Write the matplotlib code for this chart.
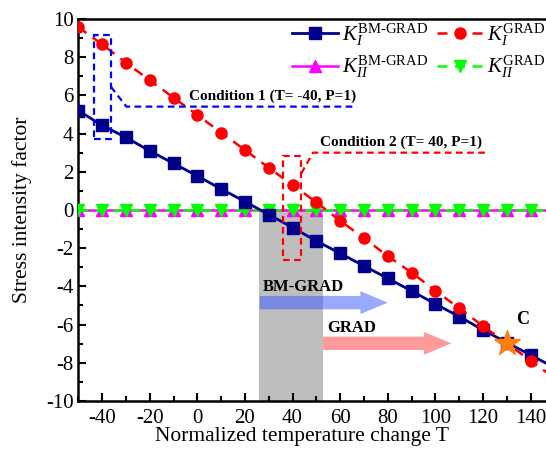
import matplotlib
matplotlib.use("Agg")
import matplotlib.pyplot as plt
from matplotlib.patches import Rectangle, FancyArrow
from matplotlib.ticker import MultipleLocator

plt.rcParams['font.family'] = ['Liberation Serif', 'DejaVu Serif']
plt.rcParams['mathtext.fontset'] = 'custom'
plt.rcParams['mathtext.rm'] = 'Liberation Serif'
plt.rcParams['mathtext.it'] = 'Liberation Serif:italic'
plt.rcParams['mathtext.bf'] = 'Liberation Serif:bold'
plt.rcParams['axes.unicode_minus'] = False

# ---- data ----
T = [-50, -40, -30, -20, -10, 0, 10, 20, 30, 40, 50, 60, 70, 80, 90, 100, 110, 120, 130, 140, 150]
KI_BM = [5.20, 4.43, 3.80, 3.09, 2.44, 1.78, 1.10, 0.44, -0.24, -0.92, -1.62, -2.27, -2.93,
         -3.58, -4.24, -4.92, -5.58, -6.28, -6.94, -7.59, -8.25]
KI_GRAD = [9.57, 8.67, 7.71, 6.79, 5.88, 4.97, 4.05, 3.14, 2.21, 1.31, 0.40, -0.56, -1.48,
           -2.41, -3.28, -4.22, -5.15, -6.07, -6.98, -7.89, -8.80]
KII_BM = [0.0] * len(T)
KII_GRAD = [0.0] * len(T)
point_C = (130, -6.97)
shade_T = (26, 53)
xticks = [-40, -20, 0, 20, 40, 60, 80, 100, 120, 140]
yticks = [-10, -8, -6, -4, -2, 0, 2, 4, 6, 8, 10]

fig = plt.figure(figsize=(5.46, 4.62), dpi=100)
ax = fig.add_axes([0.1434, 0.132, 0.872, 0.827])

ax.axvspan(shade_T[0], shade_T[1], ymin=0, ymax=0.5, color='#bebebe', zorder=0, lw=0)

h1, = ax.plot(T, KI_BM, color='#00008B', lw=2.0, marker='s', ms=8.5, label=r'$K_I^{\mathrm{BM\text{-}GRAD}}$', zorder=4)
h2, = ax.plot(T, KI_GRAD, color='#FF0000', lw=1.8, ls=(0, (4, 3)), marker='o', ms=8, label=r'$K_I^{\mathrm{GRAD}}$', zorder=5)
h3, = ax.plot(T, KII_BM, color='#FF00FF', lw=1.8, marker='^', ms=9, label=r'$K_{II}^{\mathrm{BM\text{-}GRAD}}$', zorder=3)
h4, = ax.plot(T, KII_GRAD, color='#00FF00', lw=1.8, ls=(0, (4, 3)), marker='v', ms=9, label=r'$K_{II}^{\mathrm{GRAD}}$', zorder=3.5)

ax.plot([point_C[0]], [point_C[1]], marker='*', color='#FF7F0E', ms=19, zorder=6, ls='none')
ax.text(134, -5.75, 'C', fontsize=13, fontweight='bold', ha='left', va='center')

# condition 1 annotation
ax.add_patch(Rectangle((-43.5, 3.72), 7.2, 5.46, fill=False, ec='#0000FF', lw=1.6, ls=(0, (3, 2)), zorder=7))
ax.plot([-36.3, -29.8, 67], [6.45, 5.41, 5.41], color='#0000FF', lw=1.6, ls=(0, (3, 2)), zorder=7)
ax.text(31.5, 5.62, 'Condition 1 (T= -40, P=1)', fontsize=11, fontweight='bold', ha='center', va='bottom')

# condition 2 annotation
ax.add_patch(Rectangle((36.0, -2.62), 7.7, 5.45, fill=False, ec='#FF0000', lw=1.6, ls=(0, (3, 2)), zorder=7))
ax.plot([43.7, 48.6, 121.4], [1.92, 3.0, 3.0], color='#FF0000', lw=1.6, ls=(0, (3, 2)), zorder=7)
ax.text(85.5, 3.2, 'Condition 2 (T= 40, P=1)', fontsize=11, fontweight='bold', ha='center', va='bottom')

# arrows
ax.add_patch(FancyArrow(26.2, -4.85, 53.8, 0, width=0.7, head_width=1.2, head_length=11.5,
                        length_includes_head=True, color='#3355FF', alpha=0.5, lw=0, zorder=2))
ax.text(27.5, -4.05, 'BM-GRAD', fontsize=12, fontweight='bold', ha='left', va='center')
ax.add_patch(FancyArrow(52.8, -6.98, 53.9, 0, width=0.7, head_width=1.2, head_length=11.5,
                        length_includes_head=True, color='#FF2020', alpha=0.45, lw=0, zorder=2))
ax.text(54.5, -6.2, 'GRAD', fontsize=12, fontweight='bold', ha='left', va='center')

ax.set_xlim(-50, 150)
ax.set_ylim(-10, 10)
ax.set_xticks(xticks)
ax.set_yticks(yticks)
ax.xaxis.set_minor_locator(MultipleLocator(10))
ax.yaxis.set_minor_locator(MultipleLocator(1))
ax.tick_params(which='both', direction='in', width=1.5, labelsize=15)
ax.tick_params(which='major', length=6)
ax.tick_params(which='minor', length=3.5)
ax.tick_params(axis='x', pad=6)
for s in ax.spines.values():
    s.set_linewidth(1.8)

ax.set_xlabel('Normalized temperature change T', fontsize=15.5)
ax.xaxis.set_label_coords(0.47, -0.068)
ax.set_ylabel('Stress intensity factor', fontsize=15.5)
ax.yaxis.set_label_coords(-0.098, 0.5)

leg = ax.legend([h1, h3, h2, h4], [h1.get_label(), h3.get_label(), h2.get_label(), h4.get_label()],
                ncol=2, loc='upper left', bbox_to_anchor=(0.445, 1.0), frameon=False, fontsize=15,
                handlelength=2.2, columnspacing=0.4, handletextpad=0.2, labelspacing=0.3,
                borderaxespad=0.0, borderpad=0.1)

fig.savefig('out.png', dpi=100)
